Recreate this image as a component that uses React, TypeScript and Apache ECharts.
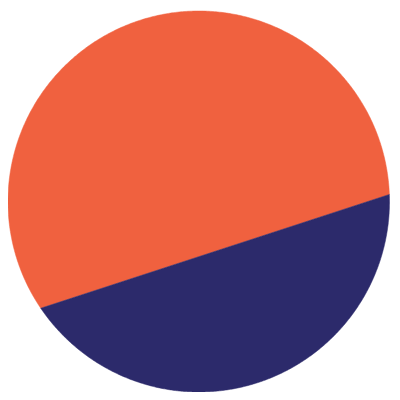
import React, { useEffect, useRef } from "react";
import * as echarts from "echarts";

const categories = ["Orange", "Navy"];
const values = [67.3, 32.7];
const colors = ["#F0613F", "#2C2A6B"];
const chordTiltDeg = 18.1;

function segmentHalfAngle(fraction: number): number {
  // solve theta - sin(theta)cos(theta) = fraction * PI
  const target = fraction * Math.PI;
  let lo = 0;
  let hi = Math.PI;
  for (let i = 0; i < 60; i++) {
    const mid = (lo + hi) / 2;
    const v = mid - Math.sin(mid) * Math.cos(mid);
    if (v < target) lo = mid;
    else hi = mid;
  }
  return (lo + hi) / 2;
}

export default function App() {
  const ref = useRef<HTMLDivElement>(null);
  useEffect(() => {
    if (!ref.current) return;
    const chart = echarts.init(ref.current, null, { renderer: "svg" });
    const total = values.reduce((a, b) => a + b, 0);
    const navyFrac = values[1] / total;
    const theta = segmentHalfAngle(navyFrac);
    const phiN = (-(90 - chordTiltDeg) * Math.PI) / 180;

    chart.setOption({
      animation: false,
      grid: { left: -0.5, top: 3, width: 382, height: 382, show: false },
      xAxis: { type: "value", min: -1, max: 1, show: false },
      yAxis: { type: "value", min: -1, max: 1, show: false },
      series: [
        {
          type: "custom",
          coordinateSystem: "cartesian2d",
          silent: true,
          data: categories.map((c, i) => ({ name: c, value: [0, 0, values[i]] })),
          renderItem: (params: any, api: any) => {
            const idx = params.dataIndex;
            const steps = 400;
            let t0: number, t1: number;
            if (idx === 1) {
              t0 = -theta;
              t1 = theta;
            } else {
              t0 = theta;
              t1 = 2 * Math.PI - theta;
            }
            const pts: number[][] = [];
            for (let k = 0; k <= steps; k++) {
              const t = t0 + ((t1 - t0) * k) / steps;
              const a = phiN + t;
              pts.push(api.coord([Math.cos(a), Math.sin(a)]));
            }
            return {
              type: "polygon",
              shape: { points: pts },
              style: { fill: colors[idx], stroke: colors[idx], lineWidth: 0.5 },
            };
          },
        },
      ],
    });
    return () => chart.dispose();
  }, []);
  return <div ref={ref} style={{ width: 384, height: 384 }} />;
}
